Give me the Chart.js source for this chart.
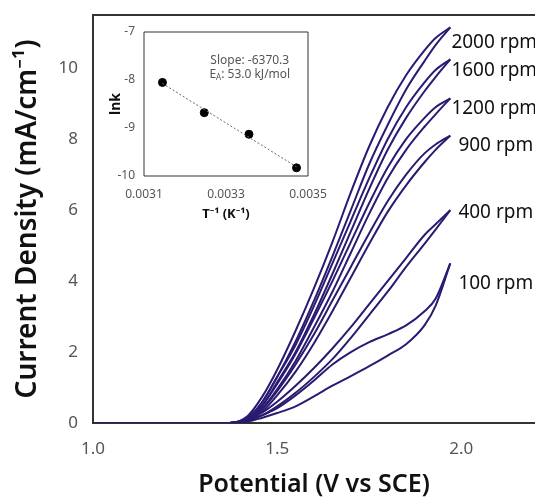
<!DOCTYPE html>
<html>
<head>
<meta charset="utf-8">
<script src="https://cdn.jsdelivr.net/npm/chart.js@4.4.1/dist/chart.umd.min.js"></script>
<style>
  body { margin: 0; background: #fff; }
  #wrap { position: relative; width: 535px; height: 498px; }
  #inset { position: absolute; left: 100px; top: 20px; }
</style>
</head>
<body>
<div id="wrap">
  <canvas id="main" width="535" height="498"></canvas>
  <canvas id="inset" width="230" height="210"></canvas>
</div>
<script>
// potential grid (V vs SCE), shared by every scan
const potential = [1.00, 1.37, 1.42, 1.46, 1.50, 1.55, 1.60, 1.65, 1.70, 1.75, 1.80, 1.85, 1.90, 1.93, 1.97];

// current density (mA/cm^-1), two scans per rotation rate
const j2000a = [0, 0, 0.20, 0.75, 1.50, 2.60, 3.80, 5.10, 6.50, 7.80, 8.90, 9.80, 10.50, 10.85, 11.15];
const j2000b = [0, 0, 0.15, 0.60, 1.30, 2.30, 3.45, 4.70, 6.00, 7.30, 8.40, 9.40, 10.20, 10.65, 11.15];
const j1600a = [0, 0, 0.15, 0.60, 1.30, 2.20, 3.30, 4.50, 5.70, 6.90, 8.00, 8.90, 9.60, 9.95, 10.25];
const j1600b = [0, 0, 0.10, 0.50, 1.15, 2.00, 3.05, 4.20, 5.40, 6.60, 7.70, 8.60, 9.35, 9.75, 10.25];
const j1200a = [0, 0, 0.10, 0.50, 1.10, 1.95, 2.95, 4.00, 5.10, 6.20, 7.20, 8.00, 8.60, 8.90, 9.15];
const j1200b = [0, 0, 0.08, 0.42, 0.95, 1.75, 2.70, 3.70, 4.80, 5.90, 6.90, 7.70, 8.35, 8.70, 9.15];
const j900a  = [0, 0, 0.08, 0.40, 0.90, 1.65, 2.50, 3.45, 4.40, 5.35, 6.25, 7.00, 7.60, 7.85, 8.10];
const j900b  = [0, 0, 0.06, 0.33, 0.78, 1.45, 2.25, 3.15, 4.10, 5.05, 5.95, 6.70, 7.35, 7.70, 8.10];
const j400a  = [0, 0, 0.10, 0.30, 0.60, 1.05, 1.55, 2.10, 2.70, 3.35, 4.00, 4.65, 5.30, 5.60, 6.00];
const j400b  = [0, 0, 0.07, 0.22, 0.47, 0.85, 1.30, 1.80, 2.40, 3.05, 3.70, 4.40, 5.05, 5.45, 6.00];
const j100a  = [0, 0, 0.06, 0.22, 0.42, 0.78, 1.20, 1.65, 2.00, 2.28, 2.50, 2.75, 3.15, 3.50, 4.50];
const j100b  = [0, 0, 0.04, 0.15, 0.28, 0.47, 0.75, 1.05, 1.32, 1.60, 1.90, 2.22, 2.75, 3.30, 4.50];

const scans = [j2000a, j2000b, j1600a, j1600b, j1200a, j1200b, j900a, j900b, j400a, j400b, j100a, j100b];

const rpmLabels = ["2000 rpm", "1600 rpm", "1200 rpm", "900 rpm", "400 rpm", "100 rpm"];
// where each label sits, in axis units [potential, current]
const rpmLabelAt = [[1.973, 10.73], [1.973, 9.94], [1.973, 8.87], [1.992, 7.83], [1.992, 5.92], [1.992, 3.94]];

const xTicks = [1.0, 1.5, 2.0];
const yTicks = [0, 2, 4, 6, 8, 10];

// inset: Arrhenius plot
const invT = [0.003145, 0.003247, 0.003356, 0.003472];
const lnk = [-8.05, -8.68, -9.13, -9.83];

const lineColor = "#2b1a72";
const font = "'Noto Sans', 'DejaVu Sans', sans-serif";

const framePlugin = {
  id: "frame",
  afterDraw(chart, args, opts) {
    const { ctx, chartArea: a } = chart;
    ctx.save();
    ctx.strokeStyle = opts.color;
    ctx.lineWidth = opts.width;
    ctx.beginPath();
    if (opts.full) {
      ctx.rect(a.left, a.top, a.right - a.left, a.bottom - a.top);
    } else {
      ctx.moveTo(a.left, a.top);
      ctx.lineTo(a.right, a.top);
    }
    ctx.stroke();
    ctx.restore();
  },
};

const rpmPlugin = {
  id: "rpm",
  afterDraw(chart) {
    const { ctx, scales } = chart;
    ctx.save();
    ctx.font = "19px " + font;
    ctx.fillStyle = "#111";
    ctx.textAlign = "left";
    ctx.textBaseline = "middle";
    rpmLabels.forEach((t, i) => {
      const [vx, vy] = rpmLabelAt[i];
      ctx.fillText(t, scales.x.getPixelForValue(vx), scales.y.getPixelForValue(vy));
    });
    ctx.restore();
  },
};

const mainChart = new Chart(document.getElementById("main"), {
  type: "line",
  data: {
    datasets: scans.map((s) => ({
      data: s.map((v, i) => ({ x: potential[i], y: v })),
      borderColor: lineColor,
      borderWidth: 2,
      pointRadius: 0,
      cubicInterpolationMode: "monotone",
      fill: false,
    })),
  },
  options: {
    responsive: false,
    animation: false,
    layout: { padding: { top: 15, right: 0, left: 0, bottom: 0 } },
    plugins: {
      legend: { display: false },
      tooltip: { enabled: false },
      frame: { color: "#333", width: 2, full: false },
    },
    scales: {
      x: {
        type: "linear",
        min: 1.0,
        max: 2.2,
        grid: { display: false, drawTicks: false },
        border: { display: true, color: "#333", width: 2 },
        afterBuildTicks: (s) => { s.ticks = xTicks.map((v) => ({ value: v })); },
        afterFit: (s) => { s.height = 75; s.paddingLeft = 0; s.paddingRight = 0; },
        ticks: {
          padding: 16,
          color: "#555",
          font: { family: font, size: 17 },
          callback: (v) => v.toFixed(1),
        },
        title: {
          display: true,
          text: "Potential (V vs SCE)",
          color: "#111",
          font: { family: font, size: 25, weight: "600" },
          padding: { top: 0, bottom: -2 },
        },
      },
      y: {
        min: 0,
        max: 11.5,
        grid: { display: false, drawTicks: false },
        border: { display: true, color: "#333", width: 2 },
        afterBuildTicks: (s) => { s.ticks = yTicks.map((v) => ({ value: v })); },
        afterFit: (s) => { s.width = 93; s.paddingTop = 0; s.paddingBottom = 0; },
        ticks: {
          padding: 15,
          color: "#555",
          font: { family: font, size: 17 },
        },
        title: {
          display: true,
          text: "Current Density (mA/cm\u207B\u00B9)",
          color: "#111",
          font: { family: font, size: 28, weight: "600" },
          padding: { top: 11, bottom: 0 },
        },
      },
    },
  },
  plugins: [framePlugin, rpmPlugin],
});

// least-squares trend line through the inset points
const n = invT.length;
const mx = invT.reduce((a, b) => a + b, 0) / n;
const my = lnk.reduce((a, b) => a + b, 0) / n;
let sxy = 0, sxx = 0;
for (let i = 0; i < n; i++) {
  sxy += (invT[i] - mx) * (lnk[i] - my);
  sxx += (invT[i] - mx) ** 2;
}
const slope = sxy / sxx;
const fit = (x) => my + slope * (x - mx);

const slopePlugin = {
  id: "slopeText",
  afterDraw(chart) {
    const { ctx, scales } = chart;
    const cx = scales.x.getPixelForValue(0.003358);
    const y1 = scales.y.getPixelForValue(-7.6);
    const y2 = scales.y.getPixelForValue(-7.88);
    ctx.save();
    ctx.fillStyle = "#555";
    ctx.textBaseline = "middle";
    ctx.font = "12px " + font;
    ctx.textAlign = "center";
    ctx.fillText("Slope: -6370.3", cx, y1);
    const rest = ": 53.0 kJ/mol";
    const wE = ctx.measureText("E").width;
    const wR = ctx.measureText(rest).width;
    ctx.font = "8px " + font;
    const wA = ctx.measureText("A").width;
    let x = cx - (wE + wA + wR) / 2;
    ctx.textAlign = "left";
    ctx.font = "12px " + font;
    ctx.fillText("E", x, y2);
    x += wE;
    ctx.font = "8px " + font;
    ctx.fillText("A", x, y2 + 3);
    x += wA;
    ctx.font = "12px " + font;
    ctx.fillText(rest, x, y2);
    ctx.restore();
  },
};

const insetChart = new Chart(document.getElementById("inset"), {
  type: "scatter",
  data: {
    datasets: [
      {
        type: "line",
        data: [invT[0], invT[n - 1]].map((x) => ({ x: x, y: fit(x) })),
        borderColor: "#666",
        borderWidth: 1,
        borderDash: [2, 2],
        pointRadius: 0,
      },
      {
        data: invT.map((x, i) => ({ x: x, y: lnk[i] })),
        backgroundColor: "#000",
        borderColor: "#000",
        pointRadius: 4,
      },
    ],
  },
  options: {
    responsive: false,
    animation: false,
    layout: { padding: { top: 12, right: 22, left: 0, bottom: 0 } },
    plugins: {
      legend: { display: false },
      tooltip: { enabled: false },
      frame: { color: "#333", width: 1, full: true },
    },
    scales: {
      x: {
        type: "linear",
        min: 0.0031,
        max: 0.0035,
        grid: { display: false, drawTicks: false },
        border: { display: false },
        afterBuildTicks: (s) => { s.ticks = [0.0031, 0.0033, 0.0035].map((v) => ({ value: v })); },
        afterFit: (s) => { s.height = 54; s.paddingLeft = 0; s.paddingRight = 0; },
        ticks: {
          padding: 11,
          color: "#555",
          font: { family: font, size: 12 },
          callback: (v) => v.toFixed(4),
        },
        title: {
          display: true,
          text: "T\u207B\u00B9 (K\u207B\u00B9)",
          color: "#111",
          font: { family: font, size: 13, weight: "bold" },
          padding: { top: 2, bottom: 8 },
        },
      },
      y: {
        min: -10,
        max: -7,
        grid: { display: false, drawTicks: false },
        border: { display: false },
        afterBuildTicks: (s) => { s.ticks = [-10, -9, -8, -7].map((v) => ({ value: v })); },
        afterFit: (s) => { s.width = 44; s.paddingTop = 0; s.paddingBottom = 0; },
        ticks: {
          padding: 9,
          color: "#555",
          font: { family: font, size: 12 },
        },
        title: {
          display: true,
          text: "lnk",
          color: "#111",
          font: { family: font, size: 14, weight: "bold" },
          padding: { top: 8, bottom: 0 },
        },
      },
    },
  },
  plugins: [framePlugin, slopePlugin],
});
</script>
</body>
</html>
